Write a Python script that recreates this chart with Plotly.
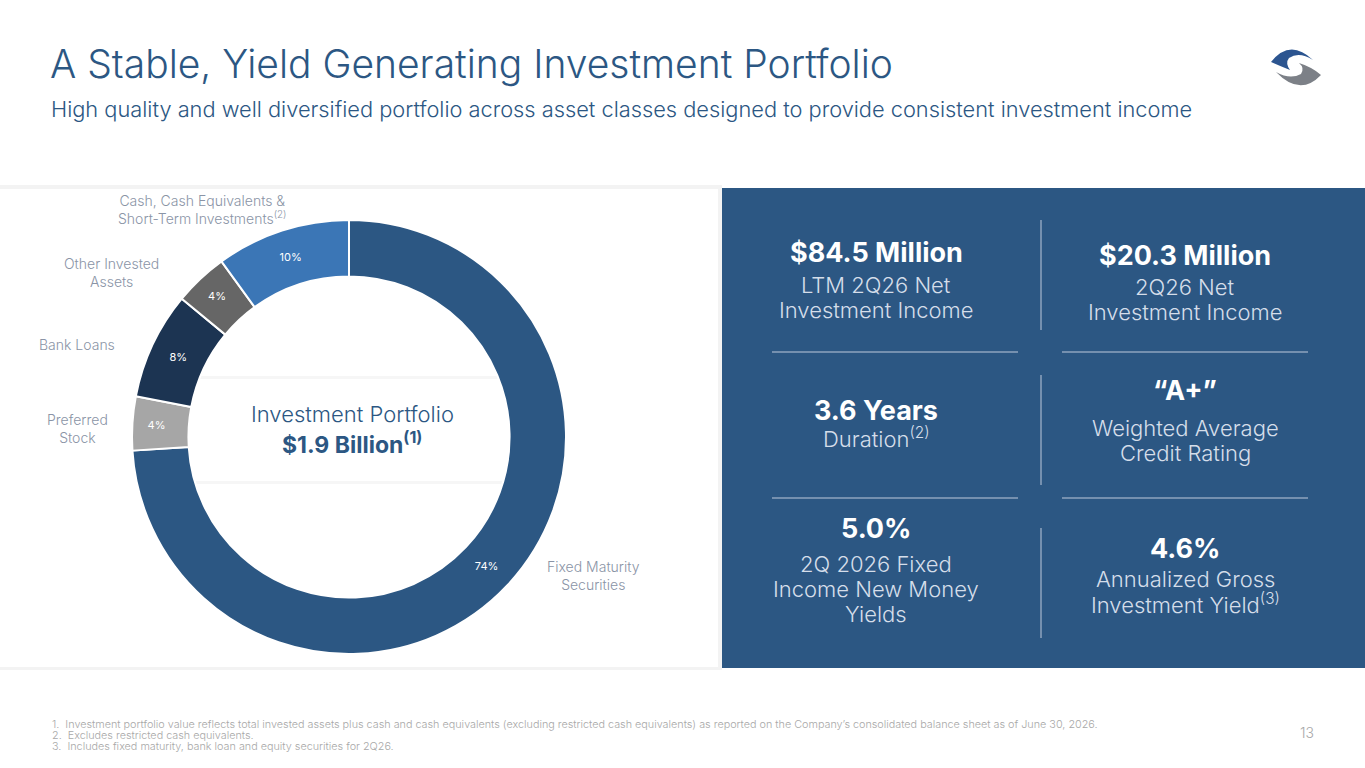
import plotly.graph_objects as go

W, H = 1365, 768

# ---- data ----
categories = ["Fixed Maturity Securities", "Preferred Stock", "Bank Loans",
              "Other Invested Assets", "Cash, Cash Equivalents & Short-Term Investments"]
shares = [74, 4, 8, 4, 10]
slice_colors = ["#2c5783", "#a6a6a6", "#1c3452", "#666666", "#3b76b6"]
label_texts = ["Fixed Maturity<br>Securities", "Preferred<br>Stock", "Bank Loans",
               "Other Invested<br>Assets",
               "Cash, Cash Equivalents &<br>Short-Term Investments<sup>(2)</sup>"]

metric_values = ["$84.5 Million", "$20.3 Million", "3.6 Years", "“A+”", "5.0%", "4.6%"]
metric_desc = ["LTM 2Q26 Net<br>Investment Income", "2Q26 Net<br>Investment Income",
               "Duration<sup>(2)</sup>", "Weighted Average<br>Credit Rating",
               "2Q 2026 Fixed<br>Income New Money<br>Yields",
               "Annualized Gross<br>Investment Yield<sup>(3)</sup>"]

footnotes = [
    "1.  Investment portfolio value reflects total invested assets plus cash and cash equivalents (excluding restricted cash equivalents) as reported on the Company’s consolidated balance sheet as of June 30, 2026.",
    "2.  Excludes restricted cash equivalents.",
    "3.  Includes fixed maturity, bank loan and equity securities for 2Q26.",
]

FONT = "Inter"
NAVY = "#2c5783"


def px(x):
    return x / W


def py(y):
    return 1 - y / H


fig = go.Figure()

cx, cy, r = 349, 437, 217
fig.add_trace(go.Pie(
    labels=categories, values=shares, sort=False, direction="clockwise", rotation=0,
    hole=0.74,
    marker=dict(colors=slice_colors, line=dict(color="white", width=2)),
    texttemplate="%{value}%", textposition="inside", insidetextorientation="horizontal",
    textfont=dict(family=FONT, size=11, color="white"),
    domain=dict(x=[px(cx - r), px(cx + r)], y=[py(cy + r), py(cy - r)]),
    showlegend=False, hoverinfo="label+percent",
))

shapes = []
# left card with soft shadow
shapes.append(dict(type="rect", xref="paper", yref="paper", x0=0, x1=px(722), y0=py(670), y1=py(185),
                   fillcolor="#f3f3f3", line=dict(width=0), layer="below"))
shapes.append(dict(type="rect", xref="paper", yref="paper", x0=0, x1=px(718), y0=py(667), y1=py(189),
                   fillcolor="white", line=dict(width=0), layer="below"))
# center band with shadow
shapes.append(dict(type="rect", xref="paper", yref="paper", x0=px(186), x1=px(508), y0=py(484), y1=py(376),
                   fillcolor="#f6f6f6", line=dict(width=0), layer="below"))
shapes.append(dict(type="rect", xref="paper", yref="paper", x0=px(186), x1=px(508), y0=py(481), y1=py(379),
                   fillcolor="white", line=dict(width=0), layer="below"))
# right panel
shapes.append(dict(type="rect", xref="paper", yref="paper", x0=px(722), x1=1, y0=py(668), y1=py(188),
                   fillcolor=NAVY, line=dict(width=0), layer="below"))
# grid lines in panel
LINE = "#8ea3be"
for (y0, y1) in [(220, 330), (375, 485), (528, 638)]:
    shapes.append(dict(type="line", xref="paper", yref="paper", x0=px(1041), x1=px(1041),
                       y0=py(y1), y1=py(y0), line=dict(color=LINE, width=1.5)))
for yy in [352, 498]:
    shapes.append(dict(type="line", xref="paper", yref="paper", x0=px(772), x1=px(1018),
                       y0=py(yy), y1=py(yy), line=dict(color=LINE, width=1.5)))
    shapes.append(dict(type="line", xref="paper", yref="paper", x0=px(1062), x1=px(1308),
                       y0=py(yy), y1=py(yy), line=dict(color=LINE, width=1.5)))


# logo
def path_px(pts_cmds):
    out = []
    for cmd, coords in pts_cmds:
        vals = [f"{px(x):.5f},{py(y):.5f}" for (x, y) in coords]
        out.append(cmd + " " + " ".join(vals))
    return " ".join(out) + " Z"


blue_path = path_px([
    ("M", [(1271, 62)]),
    ("Q", [(1290, 38), (1313, 60)]),
    ("Q", [(1299, 51), (1289, 58)]),
    ("Q", [(1285, 63), (1290, 70)]),
    ("Q", [(1280, 66), (1271, 62)]),
])
grey_path = path_px([
    ("M", [(1321, 75)]),
    ("Q", [(1300, 97), (1276, 72)]),
    ("Q", [(1290, 80), (1301, 74)]),
    ("Q", [(1305, 68), (1299, 63)]),
    ("Q", [(1312, 67), (1321, 75)]),
])
shapes.append(dict(type="path", xref="paper", yref="paper", path=blue_path,
                   fillcolor="#2c5590", line=dict(width=0)))
shapes.append(dict(type="path", xref="paper", yref="paper", path=grey_path,
                   fillcolor="#7c8087", line=dict(width=0)))

annotations = []


def ann(text, x, y, size, color, weight=400, xanchor="center", align="center", family=FONT):
    annotations.append(dict(text=text, x=px(x), y=py(y), xref="paper", yref="paper",
                            showarrow=False, xanchor=xanchor, yanchor="middle", align=align,
                            font=dict(family=family, size=size, color=color, weight=weight)))


# title & subtitle
ann("A Stable, Yield Generating Investment Portfolio", 48, 63, 39, NAVY, 300, xanchor="left", align="left")
ann("High quality and well diversified portfolio across asset classes designed to provide consistent investment income",
    49, 109, 21.8, NAVY, 300, xanchor="left", align="left")

# donut labels
LBL = "#8a94a6"
label_pos = [(593, 575), (77, 428), (77, 344), (111, 272), (202, 209)]
for t, (x, y) in zip(label_texts, label_pos):
    ann(t, x, y, 14, LBL, 300)

# center text
ann("Investment Portfolio", 352, 414, 22, NAVY, 300)
ann("<b>$1.9 Billion<sup>(1)</sup></b>", 352, 443, 23, NAVY, 700)

# metrics
value_pos = [(876, 253), (1185, 256), (876, 410), (1185, 390), (876, 528), (1185, 548)]
desc_first = [(876, 285), (1185, 287), (876, 437), (1185, 428), (876, 564), (1185, 579)]
STEP = 24.8
SUB = "#d5deea"
for v, (x, y) in zip(metric_values, value_pos):
    ann(f"<b>{v}</b>", x, y, 27, "white", 700)
for d, (x, y) in zip(metric_desc, desc_first):
    for k, line in enumerate(d.split("<br>")):
        ann(line, x, y + k * STEP, 22, SUB, 300)

# footnotes
for i, f in enumerate(footnotes):
    ann(f, 50, 724 + 11 * i, 10.8, "#a8a8a8", 300, xanchor="left", align="left")
ann("13", 1307, 732, 14, "#a8a8a8", 300)

fig.update_layout(
    width=W, height=H, margin=dict(l=0, r=0, t=0, b=0),
    paper_bgcolor="white", plot_bgcolor="white",
    shapes=shapes, annotations=annotations,
    font=dict(family=FONT),
)

fig.write_html("out.html", config={"displayModeBar": False},
               post_script="document.body.style.margin='0';document.body.style.overflow='hidden';")
